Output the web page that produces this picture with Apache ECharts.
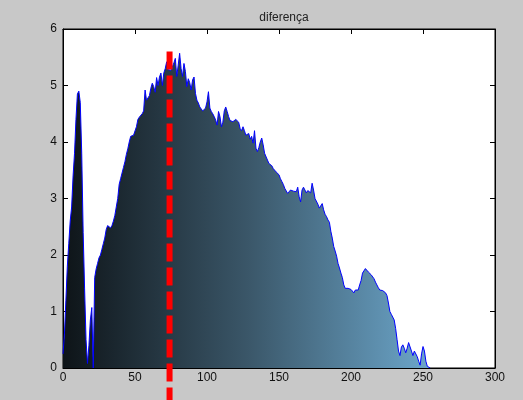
<!DOCTYPE html>
<html>
<head>
<meta charset="utf-8">
<script src="https://cdn.jsdelivr.net/npm/echarts@6/dist/echarts.min.js"></script>
<style>
html,body{margin:0;padding:0;background:#c8c8c8;}
#c{width:523px;height:400px;}
</style>
</head>
<body>
<div id="c"></div>
<script>
// Bin positions (0..255) and histogram values
const bins = Array.from({length: 256}, (_, i) => i);
const values = [
0.25,0.6,1.2,1.8,2.2,2.6,2.85,3.4,3.8,4.4,
4.85,4.9,4.7,3.8,2.4,1.4,0.5,0.08,0.4,0.85,
1.07,0.0,1.6,1.75,1.85,1.95,2.0,2.1,2.2,2.3,
2.45,2.52,2.5,2.48,2.52,2.6,2.7,2.85,3.0,3.25,
3.35,3.45,3.55,3.65,3.78,3.88,4.0,4.1,4.12,4.12,
4.15,4.27,4.4,4.44,4.45,4.5,4.55,4.92,4.74,4.78,
4.82,4.95,5.04,4.98,4.88,5.14,5.0,5.15,5.22,5.0,
5.22,5.3,5.42,5.28,5.27,5.27,5.3,5.4,5.48,5.16,
5.36,5.57,5.3,5.16,5.39,5.25,4.98,5.12,5.05,4.92,
5.1,5.15,4.86,4.74,4.69,4.62,4.6,4.55,4.54,4.6,
4.71,4.89,4.6,4.54,4.5,4.45,4.39,4.3,4.54,4.45,
4.27,4.35,4.55,4.62,4.54,4.45,4.38,4.4,4.36,4.39,
4.4,4.4,4.35,4.24,4.2,4.27,4.2,4.12,4.09,4.15,
4.05,4.1,3.98,4.2,3.89,3.83,3.9,4.0,4.07,3.95,
3.8,3.77,3.68,3.62,3.6,3.58,3.53,3.5,3.47,3.46,
3.42,3.35,3.3,3.25,3.18,3.15,3.09,3.1,3.15,3.12,
3.13,3.15,3.12,3.2,3.03,2.94,3.15,3.2,3.15,3.1,
3.14,3.15,3.1,3.27,3.15,3.0,2.98,2.9,2.83,2.82,
2.91,2.8,2.72,2.68,2.62,2.58,2.42,2.3,2.15,2.07,
1.98,1.85,1.77,1.68,1.6,1.47,1.41,1.43,1.41,1.41,
1.39,1.36,1.33,1.38,1.41,1.38,1.47,1.55,1.68,1.7,
1.76,1.75,1.7,1.68,1.65,1.62,1.58,1.52,1.47,1.42,
1.38,1.35,1.37,1.38,1.33,1.28,1.15,1.0,0.95,0.96,
0.85,0.7,0.5,0.3,0.22,0.37,0.41,0.35,0.27,0.35,
0.45,0.45,0.3,0.22,0.3,0.32,0.2,0.12,0.05,0.25,
0.38,0.3,0.12,0.03,0,0
];
// Vertical dashed reference line (x position and vertical extent)
const markerX = 74;
const markerY = [5.6, -0.6];
const xTicks = [0, 50, 100, 150, 200, 250, 300];
const yTicks = [0, 1, 2, 3, 4, 5, 6];
const titleText = 'diferença';

const chart = echarts.init(document.getElementById('c'), null, {renderer: 'canvas'});
const font = 'Liberation Sans, Arial, sans-serif';
const baseX = {
  type: 'value', min: xTicks[0], max: xTicks[xTicks.length-1], interval: 50,
  axisLine: {show: true, onZero: false, lineStyle: {color: '#000', width: 1}},
  axisTick: {show: true, inside: true, length: 5, lineStyle: {color: '#000'}},
  splitLine: {show: false}
};
const baseY = {
  type: 'value', min: yTicks[0], max: yTicks[yTicks.length-1], interval: 1,
  axisLine: {show: true, onZero: false, lineStyle: {color: '#000', width: 1}},
  axisTick: {show: true, inside: true, length: 5, lineStyle: {color: '#000'}},
  splitLine: {show: false}
};
chart.setOption({
  backgroundColor: '#c8c8c8',
  animation: false,
  title: {
    text: titleText, left: 279, top: 7, textAlign: 'center',
    textStyle: {fontFamily: font, fontSize: 12, fontWeight: 'normal', color: '#222'}
  },
  grid: {left: 63, right: 28, top: 29, bottom: 32, show: true, backgroundColor: '#fff', borderColor: '#000', borderWidth: 1},
  xAxis: [
    Object.assign({}, baseX, {position: 'bottom', axisLabel: {show: true, margin: 4, color: '#111', fontFamily: font, fontSize: 12}}),
    Object.assign({}, baseX, {position: 'top', axisLabel: {show: false}})
  ],
  yAxis: [
    Object.assign({}, baseY, {position: 'left', axisLabel: {show: true, margin: 6, color: '#111', fontFamily: font, fontSize: 12}}),
    Object.assign({}, baseY, {position: 'right', axisLabel: {show: false}})
  ],
  series: [
    {
      type: 'line',
      data: bins.map((b, i) => [b, values[i]]),
      showSymbol: false,
      symbol: 'none',
      lineStyle: {color: '#0000ff', width: 1},
      areaStyle: {
        opacity: 1,
        origin: 'start',
        color: new echarts.graphic.LinearGradient(0, 0, 1, 0, [
          {offset: 0, color: '#0e1418'},
          {offset: 0.5, color: '#3a5668'},
          {offset: 1, color: '#6ca6ca'}
        ])
      },
      z: 2
    },
    {
      type: 'line',
      data: [[markerX, markerY[0]], [markerX, markerY[1]]],
      showSymbol: false,
      symbol: 'none',
      clip: false,
      lineStyle: {color: '#ff0000', width: 6, type: [18, 6]},
      z: 3
    }
  ]
});
</script>
</body>
</html>
